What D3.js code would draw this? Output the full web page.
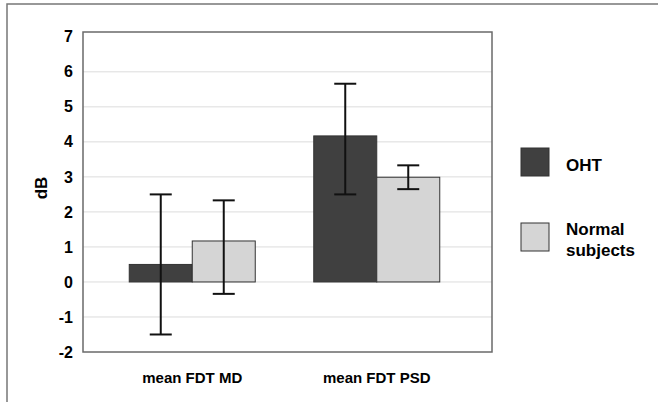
<!DOCTYPE html>
<html>
<head>
<meta charset="utf-8">
<script src="https://cdn.jsdelivr.net/npm/d3@7"></script>
<style>
  body { margin: 0; background: #fff; }
  svg { display: block; font-family: "Liberation Sans", Arial, sans-serif; }
</style>
</head>
<body>
<svg id="chart" width="658" height="402"></svg>
<script>
// data
const categories = ['mean FDT MD', 'mean FDT PSD'];
const series = ['OHT', 'Normal subjects'];
const ohtMean = [0.5, 4.17];
const ohtLow = [-1.5, 2.5];
const ohtHigh = [2.5, 5.66];
const normalMean = [1.17, 2.99];
const normalLow = [-0.34, 2.65];
const normalHigh = [2.33, 3.33];
const yTicks = [-2, -1, 0, 1, 2, 3, 4, 5, 6, 7];

const colors = { 'OHT': '#404040', 'Normal subjects': '#d5d5d5' };

const rows = [];
categories.forEach((c, i) => {
    rows.push({ cat: c, s: 'OHT', v: ohtMean[i], lo: ohtLow[i], hi: ohtHigh[i] });
    rows.push({ cat: c, s: 'Normal subjects', v: normalMean[i], lo: normalLow[i], hi: normalHigh[i] });
});

const svg = d3.select('#chart');

// outer frame
svg.append('rect')
    .attr('x', 7).attr('y', 4)
    .attr('width', 660).attr('height', 410)
    .attr('fill', 'none')
    .attr('stroke', '#777')
    .attr('stroke-width', 1.5);

const plot = { left: 83, right: 492, top: 32, bottom: 352 };

const y = d3.scaleLinear().domain([-2, 7]).range([352, 36.8]);

const x0 = d3.scaleBand().domain(categories).range([100, 469]);
const groupW = 126;
const x1 = d3.scaleBand().domain(series).range([0, groupW]);
const gx = c => x0(c) + (x0.bandwidth() - groupW) / 2;

// gridlines
svg.append('g').selectAll('line')
    .data(yTicks.filter(t => t > -2 && t < 7))
    .enter().append('line')
    .attr('x1', plot.left).attr('x2', plot.right)
    .attr('y1', d => y(d)).attr('y2', d => y(d))
    .attr('stroke', '#dcdcdc')
    .attr('stroke-width', 1);

// plot frame
svg.append('rect')
    .attr('x', plot.left).attr('y', plot.top)
    .attr('width', plot.right - plot.left)
    .attr('height', plot.bottom - plot.top)
    .attr('fill', 'none')
    .attr('stroke', '#6a6a6a')
    .attr('stroke-width', 1.5);

// y axis labels
const yAxis = d3.axisLeft(y).tickValues(yTicks).tickFormat(d => String(d)).tickSize(0).tickPadding(10);
const ya = svg.append('g')
    .attr('transform', `translate(${plot.left},0)`)
    .call(yAxis);
ya.select('.domain').remove();
ya.selectAll('text')
    .attr('font-size', '16px')
    .attr('font-weight', 'bold')
    .attr('font-family', '"Liberation Sans", Arial, sans-serif')
    .attr('fill', '#000');

svg.append('text')
    .attr('transform', 'translate(47,188) rotate(-90)')
    .attr('text-anchor', 'middle')
    .attr('font-size', '17px')
    .attr('font-weight', 'bold')
    .attr('fill', '#000')
    .text('dB');

// bars
svg.append('g').selectAll('rect')
    .data(rows)
    .enter().append('rect')
    .attr('x', d => gx(d.cat) + x1(d.s))
    .attr('width', x1.bandwidth())
    .attr('y', d => y(Math.max(0, d.v)))
    .attr('height', d => Math.abs(y(d.v) - y(0)))
    .attr('fill', d => colors[d.s])
    .attr('stroke', '#333')
    .attr('stroke-width', 1);

// error bars
const cap = 11;
const eb = svg.append('g').selectAll('g')
    .data(rows)
    .enter().append('g')
    .attr('transform', d => `translate(${gx(d.cat) + x1(d.s) + x1.bandwidth() / 2},0)`)
    .attr('stroke', '#111')
    .attr('stroke-width', 2);
eb.append('line')
    .attr('x1', 0).attr('x2', 0)
    .attr('y1', d => y(d.lo)).attr('y2', d => y(d.hi));
eb.append('line')
    .attr('x1', -cap).attr('x2', cap)
    .attr('y1', d => y(d.hi)).attr('y2', d => y(d.hi));
eb.append('line')
    .attr('x1', -cap).attr('x2', cap)
    .attr('y1', d => y(d.lo)).attr('y2', d => y(d.lo));

// category labels
svg.append('g').selectAll('text')
    .data(categories)
    .enter().append('text')
    .attr('x', d => x0(d) + x0.bandwidth() / 2)
    .attr('y', 383)
    .attr('text-anchor', 'middle')
    .attr('font-size', '15px')
    .attr('font-weight', 'bold')
    .attr('fill', '#000')
    .text(d => d);

// legend
const legend = svg.append('g');
const legendY = [148, 223];
series.forEach((s, i) => {
    legend.append('rect')
        .attr('x', 521).attr('y', legendY[i])
        .attr('width', 28).attr('height', 28)
        .attr('fill', colors[s])
        .attr('stroke', '#333')
        .attr('stroke-width', 1);
});
legend.append('text')
    .attr('x', 566).attr('y', 171)
    .attr('font-size', '17px').attr('font-weight', 'bold').attr('fill', '#000')
    .text('OHT');
const nt = legend.append('text')
    .attr('x', 566).attr('y', 235)
    .attr('font-size', '17px').attr('font-weight', 'bold').attr('fill', '#000');
nt.append('tspan').attr('x', 566).text('Normal');
nt.append('tspan').attr('x', 566).attr('dy', 21).text('subjects');
</script>
</body>
</html>
